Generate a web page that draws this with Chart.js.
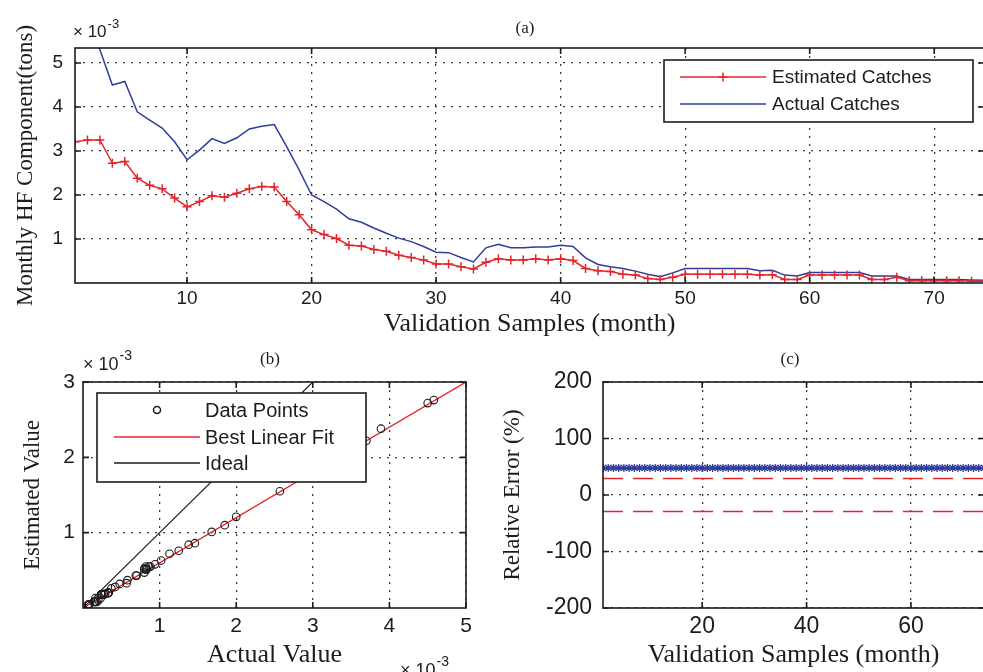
<!DOCTYPE html>
<html>
<head>
<meta charset="utf-8">
<script src="https://cdn.jsdelivr.net/npm/chart.js@4.4.0/dist/chart.umd.min.js"></script>
<style>
  html, body { margin: 0; padding: 0; background: #fff; overflow: hidden; width: 983px; height: 672px; }
  canvas { position: absolute; }
  #chartA { left: 0; top: 0; }
  #chartB { left: 0; top: 340px; }
  #chartC { left: 490px; top: 340px; }
</style>
</head>
<body>
<canvas id="chartA" width="990" height="340"></canvas>
<canvas id="chartB" width="490" height="340"></canvas>
<canvas id="chartC" width="500" height="340"></canvas>
<script>
const SANS = "'Liberation Sans', Arial, sans-serif";
const SERIF = "'Liberation Serif', 'Times New Roman', serif";
const RED = "#e2262c";
const BLUE = "#2f3d9d";
const INK = "#1c1c1c";
const GRID = "#3a3a3a";

// validation months 1..74
const months = Array.from({ length: 74 }, (_, i) => i + 1);

// monthly HF component, x 10^-3 tons
const estimated = [
  3.21, 3.25, 3.25, 2.72, 2.76, 2.38, 2.22, 2.14, 1.93, 1.73,
  1.85, 1.98, 1.95, 2.04, 2.14, 2.19, 2.18, 1.85, 1.55, 1.21,
  1.10, 1.01, 0.86, 0.84, 0.76, 0.72, 0.63, 0.58, 0.52, 0.43,
  0.43, 0.37, 0.32, 0.47, 0.55, 0.52, 0.52, 0.55, 0.52, 0.55,
  0.51, 0.33, 0.28, 0.26, 0.20, 0.18, 0.10, 0.08, 0.13, 0.20,
  0.20, 0.20, 0.20, 0.20, 0.20, 0.18, 0.19, 0.08, 0.08, 0.18,
  0.18, 0.18, 0.18, 0.18, 0.08, 0.08, 0.13, 0.05, 0.05, 0.05,
  0.05, 0.05, 0.04, 0.04
];
const actual = [
  6.30, 5.90, 5.30, 4.50, 4.58, 3.89, 3.70, 3.52, 3.21, 2.80,
  3.02, 3.28, 3.17, 3.30, 3.50, 3.56, 3.60, 3.10, 2.57, 2.00,
  1.85, 1.68, 1.46, 1.38, 1.25, 1.13, 1.02, 0.94, 0.83, 0.70,
  0.69, 0.58, 0.48, 0.80, 0.88, 0.80, 0.80, 0.82, 0.82, 0.86,
  0.83, 0.57, 0.42, 0.37, 0.33, 0.27, 0.20, 0.14, 0.23, 0.33,
  0.33, 0.33, 0.33, 0.33, 0.33, 0.28, 0.29, 0.18, 0.16, 0.24,
  0.24, 0.24, 0.24, 0.24, 0.16, 0.16, 0.16, 0.08, 0.08, 0.08,
  0.08, 0.08, 0.07, 0.06
];

// relative error (%) per month and the error band
const relError = [
  48, 48, 48, 48, 48, 48, 48, 48, 48, 48,
  48, 48, 48, 48, 48, 48, 48, 48, 48, 48,
  48, 48, 48, 48, 48, 48, 48, 48, 48, 48,
  48, 48, 48, 48, 48, 48, 48, 48, 48, 48,
  48, 48, 48, 48, 48, 48, 48, 48, 48, 48,
  48, 48, 48, 48, 48, 48, 48, 48, 48, 48,
  48, 48, 48, 48, 48, 48, 48, 48, 48, 48,
  48, 48, 48, 48
];
const errBand = [29, -29];

// best linear fit: slope, intercept
const fitCoef = [0.6, 0];
const actualRange = [0, 5];

const ticksAx = [10, 20, 30, 40, 50, 60, 70];
const ticksAy = [1, 2, 3, 4, 5];
const ticksBx = [1, 2, 3, 4, 5];
const ticksBy = [1, 2, 3];
const ticksCx = [20, 40, 60];
const ticksCy = [-200, -100, 0, 100, 200];

function axis(min, max, ticks, size, pad, fit, title, titleSize, titlePad) {
  return {
    type: "linear", min, max,
    afterBuildTicks: s => { s.ticks = ticks.map(v => ({ value: v })); },
    afterFit: s => { if (s.isHorizontal()) s.height = fit; else s.width = fit; },
    grid: { color: GRID, lineWidth: 1.3, drawTicks: false },
    border: { display: false, dash: [2, 6] },
    ticks: { font: { family: SANS, size }, color: INK, padding: pad },
    title: { display: true, text: title, color: INK, font: { family: SERIF, size: titleSize }, padding: titlePad }
  };
}

// matlab style box with inward ticks
const frame = {
  id: "frame",
  afterDatasetsDraw(chart) {
    const { ctx, chartArea: a, scales: { x, y } } = chart;
    ctx.save();
    ctx.strokeStyle = INK;
    ctx.lineWidth = 1.6;
    ctx.strokeRect(a.left, a.top, a.right - a.left, a.bottom - a.top);
    ctx.beginPath();
    x.ticks.forEach(t => {
      const p = x.getPixelForValue(t.value);
      ctx.moveTo(p, a.bottom); ctx.lineTo(p, a.bottom - 6);
      ctx.moveTo(p, a.top); ctx.lineTo(p, a.top + 6);
    });
    y.ticks.forEach(t => {
      const p = y.getPixelForValue(t.value);
      ctx.moveTo(a.left, p); ctx.lineTo(a.left + 6, p);
      ctx.moveTo(a.right, p); ctx.lineTo(a.right - 6, p);
    });
    ctx.stroke();
    ctx.restore();
  }
};

function drawMarker(ctx, style, x, y, color) {
  ctx.strokeStyle = color;
  ctx.lineWidth = 1.5;
  ctx.beginPath();
  if (style === "cross") {
    ctx.moveTo(x - 4.5, y); ctx.lineTo(x + 4.5, y);
    ctx.moveTo(x, y - 4.5); ctx.lineTo(x, y + 4.5);
  } else {
    ctx.arc(x, y, 3.5, 0, Math.PI * 2);
  }
  ctx.stroke();
}

// legend box drawn inside the plot, like matlab
const boxLegend = {
  id: "boxLegend",
  afterDraw(chart, args, o) {
    const ctx = chart.ctx;
    const [bx, by, bw, bh] = o.box;
    ctx.save();
    ctx.fillStyle = "#fff";
    ctx.fillRect(bx, by, bw, bh);
    ctx.strokeStyle = INK;
    ctx.lineWidth = 1.6;
    ctx.strokeRect(bx, by, bw, bh);
    ctx.font = o.size + "px " + SANS;
    ctx.textBaseline = "middle";
    o.rows.forEach(r => {
      const ds = chart.data.datasets[r.ds];
      if (r.line) {
        ctx.strokeStyle = ds.borderColor;
        ctx.lineWidth = 1.5;
        ctx.beginPath();
        ctx.moveTo(o.lineX[0], r.y); ctx.lineTo(o.lineX[1], r.y);
        ctx.stroke();
      }
      if (r.marker) drawMarker(ctx, r.marker, o.markerX, r.y, r.markerColor || ds.borderColor);
      ctx.fillStyle = INK;
      ctx.fillText(ds.label, o.textX, r.y + 1);
    });
    ctx.restore();
  }
};

const notes = {
  id: "notes",
  afterDraw(chart, args, o) {
    const ctx = chart.ctx;
    ctx.save();
    ctx.fillStyle = INK;
    o.items.forEach(n => {
      ctx.font = n.size + "px " + (n.serif ? SERIF : SANS);
      ctx.textAlign = n.align || "left";
      ctx.textBaseline = "alphabetic";
      ctx.fillText(n.text, n.x, n.y);
      if (n.sup) {
        const w = ctx.measureText(n.text).width;
        ctx.font = Math.round(n.size * 0.75) + "px " + SANS;
        ctx.fillText(n.sup, n.x + w + 1, n.y - n.size * 0.55);
      }
    });
    ctx.restore();
  }
};

const base = { animation: false, responsive: false, events: [] };

// (a) time series
new Chart(document.getElementById("chartA"), {
  type: "line",
  data: {
    datasets: [
      {
        label: "Estimated Catches",
        data: months.map((m, i) => ({ x: m, y: estimated[i] })),
        borderColor: RED, borderWidth: 1.5,
        pointStyle: "cross", pointRadius: 4.5, pointBorderWidth: 1.5,
        pointBorderColor: RED, pointBackgroundColor: RED
      },
      {
        label: "Actual Catches",
        data: months.map((m, i) => ({ x: m, y: actual[i] })),
        borderColor: BLUE, borderWidth: 1.5, pointRadius: 0
      }
    ]
  },
  options: {
    ...base,
    layout: { padding: { left: 0, right: 5, top: 48, bottom: 0 } },
    plugins: {
      legend: { display: false }, tooltip: { enabled: false },
      boxLegend: {
        box: [664, 60, 309, 62], size: 19, lineX: [680, 766], markerX: 723, textX: 772,
        rows: [{ ds: 0, y: 77, line: true, marker: "cross" }, { ds: 1, y: 104, line: true }]
      },
      notes: {
        items: [
          { text: "(a)", x: 525, y: 33, size: 17, serif: true, align: "center" },
          { text: "× 10", sup: "-3", x: 73, y: 37, size: 17 }
        ]
      }
    },
    scales: {
      x: axis(1, 74, ticksAx, 19, 4, 57, "Validation Samples (month)", 26, { top: 0, bottom: 0 }),
      y: axis(0, 5.34, ticksAy, 19, 12, 75, "Monthly HF Component(tons)", 23, { top: 12, bottom: 0 })
    }
  },
  plugins: [frame, boxLegend, notes]
});

// (b) regression of estimated on actual
new Chart(document.getElementById("chartB"), {
  type: "scatter",
  data: {
    datasets: [
      {
        label: "Data Points",
        data: actual.map((a, i) => ({ x: a, y: estimated[i] })),
        pointStyle: "circle", pointRadius: 3.8, pointBorderWidth: 1.1,
        borderColor: INK, pointBorderColor: INK, pointBackgroundColor: "rgba(0,0,0,0)"
      },
      {
        label: "Best Linear Fit",
        data: actualRange.map(v => ({ x: v, y: fitCoef[0] * v + fitCoef[1] })),
        showLine: true, pointRadius: 0, borderColor: RED, borderWidth: 1.4
      },
      {
        label: "Ideal",
        data: actualRange.map(v => ({ x: v, y: v })),
        showLine: true, pointRadius: 0, borderColor: INK, borderWidth: 1.2
      }
    ]
  },
  options: {
    ...base,
    layout: { padding: { left: 0, right: 24, top: 42, bottom: 0 } },
    plugins: {
      legend: { display: false }, tooltip: { enabled: false },
      boxLegend: {
        box: [97, 53, 269, 89], size: 20, lineX: [114, 200], markerX: 157, textX: 205,
        rows: [
          { ds: 0, y: 70, marker: "circle", markerColor: INK },
          { ds: 1, y: 97, line: true },
          { ds: 2, y: 123, line: true }
        ]
      },
      notes: {
        items: [
          { text: "(b)", x: 270, y: 24, size: 17, serif: true, align: "center" },
          { text: "× 10", sup: "-3", x: 83, y: 30, size: 18 },
          { text: "× 10", sup: "-3", x: 400, y: 336, size: 18 }
        ]
      }
    },
    scales: {
      x: axis(0, 5, ticksBx, 21, 6, 72, "Actual Value", 26, { top: 0, bottom: 9 }),
      y: axis(0, 3, ticksBy, 21, 8, 83, "Estimated Value", 23, { top: 19, bottom: 0 })
    }
  },
  plugins: [frame, boxLegend, notes]
});

// (c) relative error
new Chart(document.getElementById("chartC"), {
  type: "line",
  data: {
    datasets: [
      {
        label: "Relative Error",
        data: months.map((m, i) => ({ x: m, y: relError[i] })),
        borderColor: BLUE, borderWidth: 1.5,
        pointStyle: "star", pointRadius: 4, pointBorderWidth: 1.3,
        pointBorderColor: BLUE, pointBackgroundColor: BLUE
      },
      ...errBand.map(b => ({
        label: "Band",
        data: [months[0], months[months.length - 1]].map(m => ({ x: m, y: b })),
        borderColor: RED, borderWidth: 1.5, borderDash: [20, 10], pointRadius: 0
      }))
    ]
  },
  options: {
    ...base,
    layout: { padding: { left: 0, right: 6, top: 42, bottom: 0 } },
    plugins: {
      legend: { display: false }, tooltip: { enabled: false },
      notes: { items: [{ text: "(c)", x: 300, y: 24, size: 17, serif: true, align: "center" }] }
    },
    scales: {
      x: axis(1, 74, ticksCx, 23, 5, 72, "Validation Samples (month)", 26, { top: 0, bottom: 9 }),
      y: axis(-200, 200, ticksCy, 23, 11, 113, "Relative Error (%)", 23, { top: 9, bottom: 0 })
    }
  },
  plugins: [frame, notes]
});
</script>
</body>
</html>
